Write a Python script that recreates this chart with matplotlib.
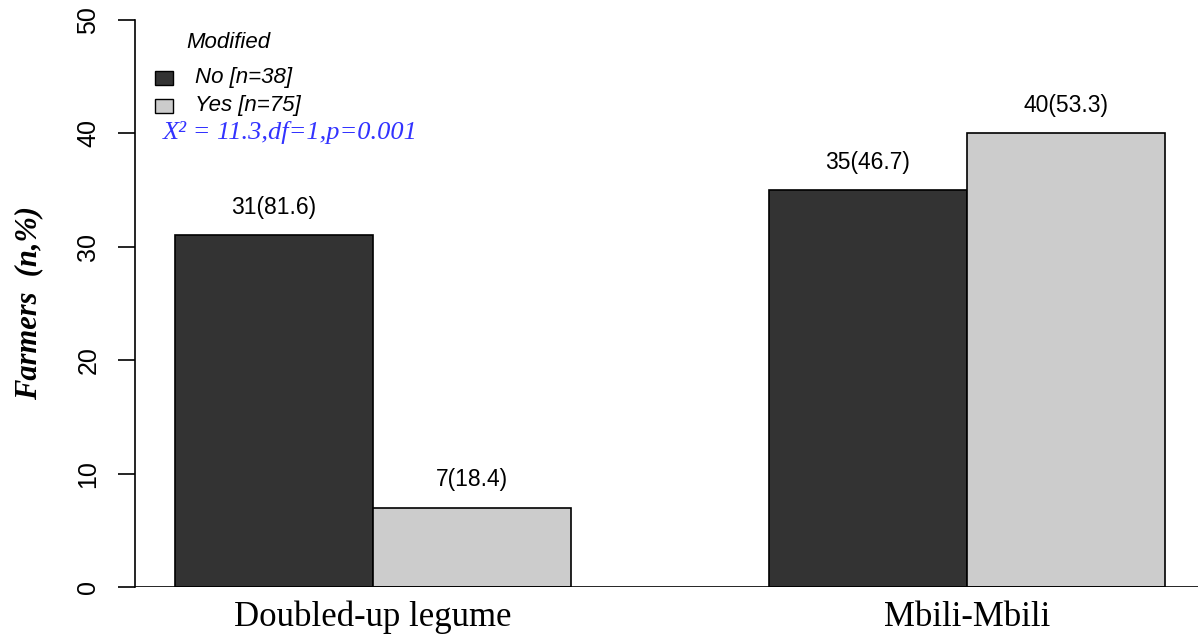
import matplotlib
matplotlib.use("Agg")
import matplotlib.pyplot as plt
from matplotlib.patches import Rectangle
import numpy as np

categories = ["Doubled-up legume", "Mbili-Mbili"]
groups = ["No [n=38]", "Yes [n=75]"]
counts_no = [31, 35]
counts_yes = [7, 40]
pct_no = [81.6, 46.7]
pct_yes = [18.4, 53.3]
stat_text = "X² = 11.3,df=1,p=0.001"

DARK = "#333333"
LIGHT = "#cccccc"
W, H = 1198, 638

fig = plt.figure(figsize=(W / 100, H / 100), dpi=100)
ax = fig.add_axes([135 / W, 1 - 587 / H, 1 - 135 / W, (587 - 20) / H])

# R-style barplot positions: bars of width 1, one unit gap between groups
centers = np.array([2.0, 5.0])
width = 1.0
ax.bar(centers - width / 2, counts_no, width, color=DARK, edgecolor="black", linewidth=1.2)
ax.bar(centers + width / 2, counts_yes, width, color=LIGHT, edgecolor="black", linewidth=1.2)

for x, n, p in zip(centers - width / 2, counts_no, pct_no):
    ax.text(x, n + 2.45, f"{n}({p})", ha="center", va="center", fontsize=16.5, family="Liberation Sans")
for x, n, p in zip(centers + width / 2, counts_yes, pct_yes):
    ax.text(x, n + 2.45, f"{n}({p})", ha="center", va="center", fontsize=16.5, family="Liberation Sans")

ax.set_xlim(0.798, 6.167)
ax.set_ylim(0, 50)
ax.axhline(0, color="black", linewidth=1.2, xmin=0, xmax=1)

for s in ["top", "right", "bottom"]:
    ax.spines[s].set_visible(False)
ax.spines["left"].set_linewidth(1.2)

ax.set_yticks([0, 10, 20, 30, 40, 50])
ax.set_yticklabels(["0", "10", "20", "30", "40", "50"], rotation=90, va="center",
                   fontsize=18, family="Liberation Sans")
ax.tick_params(axis="y", length=12, width=1.2, pad=13)
ax.set_xticks(centers)
ax.set_xticklabels(categories, fontsize=25, family="Liberation Serif")
ax.tick_params(axis="x", length=0, pad=10)

ax.set_ylabel("Farmers  (n,%)", fontsize=22, family="Liberation Serif",
              fontweight="bold", style="italic", labelpad=24)

# legend drawn R-style: title, two filled boxes with labels
legend_font = {"family": "Liberation Sans", "style": "italic", "size": 16}
fig.text(228 / W, 1 - 42 / H, "Modified", ha="center", va="center", **legend_font)
for yc, col, lab in zip([78, 106], [DARK, LIGHT], groups):
    fig.add_artist(Rectangle((155 / W, 1 - (yc + 7) / H), 18 / W, 14 / H,
                             transform=fig.transFigure, facecolor=col,
                             edgecolor="black", linewidth=1.0))
    fig.text(195 / W, 1 - yc / H, lab, ha="left", va="center", **legend_font)

fig.text(163 / W, 1 - 132 / H, stat_text, color="#3333ff", fontsize=19,
         family="Liberation Serif", style="italic", va="center", ha="left")

fig.savefig("out.png", dpi=100)
